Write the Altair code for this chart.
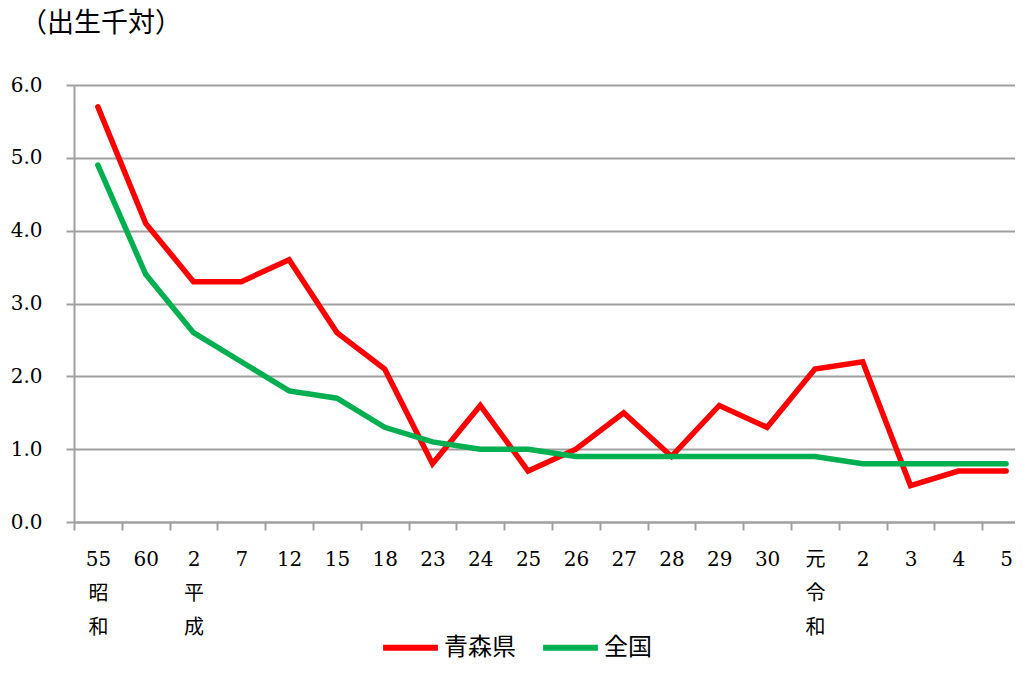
import altair as alt
import pandas as pd

labels = ["55|昭|和", "60", "2|平|成", "7", "12", "15", "18", "23", "24", "25",
          "26", "27", "28", "29", "30", "元|令|和", "2", "3", "4", "5"]
aomori = [5.7, 4.1, 3.3, 3.3, 3.6, 2.6, 2.1, 0.8, 1.6, 0.7,
          1.0, 1.5, 0.9, 1.6, 1.3, 2.1, 2.2, 0.5, 0.7, 0.7]
zenkoku = [4.9, 3.4, 2.6, 2.2, 1.8, 1.7, 1.3, 1.1, 1.0, 1.0,
           0.9, 0.9, 0.9, 0.9, 0.9, 0.9, 0.8, 0.8, 0.8, 0.8]
series_names = ["青森県", "全国"]
colors = ["#FF0000", "#00B050"]

n = len(labels)
rows = []
for i in range(n):
    rows.append({"idx": i, "series": series_names[0], "order": 1, "value": aomori[i]})
    rows.append({"idx": i, "series": series_names[1], "order": 0, "value": zenkoku[i]})
df = pd.DataFrame(rows)

label_arr = "[" + ",".join("'" + l + "'" for l in labels) + "]"
boundaries = [i - 0.5 for i in range(n)]  # category boundaries (tick positions)

FONT = "DejaVu Serif, Noto Sans CJK JP"
CJK = "Noto Sans CJK JP"
GRID = "#A0A0A0"

W = 941
STEP = 47.8
x_max = -0.5 + W / STEP

chart = alt.Chart(df).mark_line(strokeWidth=5.5, strokeCap="round", strokeJoin="miter").encode(
    x=alt.X("idx:Q", scale=alt.Scale(domain=[-0.5, x_max], nice=False, zero=False),
            axis=alt.Axis(title=None, values=boundaries, grid=False, labelAngle=0,
                          tickSize=8, tickColor=GRID, tickWidth=2,
                          domainColor=GRID, domainWidth=2,
                          labelFont=FONT, labelFontSize=20, labelColor="#000000",
                          labelPadding=19, labelLineHeight=34, labelBaseline="top",
                          labelOffset=STEP / 2, labelOverlap=False, labelFlush=False,
                          labelBound=False,
                          labelExpr="split(" + label_arr + "[round(datum.value + 0.5)], '|')")),
    y=alt.Y("value:Q", scale=alt.Scale(domain=[0, 6], nice=False),
            axis=alt.Axis(title=None, values=[0, 1, 2, 3, 4, 5, 6], format=".1f",
                          tickSize=8, tickColor=GRID, tickWidth=2,
                          domainColor=GRID, domainWidth=2,
                          gridColor=GRID, gridWidth=2, gridOpacity=1,
                          labelFont=FONT, labelFontSize=20, labelColor="#000000",
                          labelPadding=24)),
    color=alt.Color("series:N", scale=alt.Scale(domain=series_names, range=colors),
                    legend=alt.Legend(title=None, orient="none", legendX=306, legendY=532,
                                      direction="horizontal", symbolType="stroke",
                                      symbolStrokeWidth=6, symbolSize=3000,
                                      labelFont=CJK, labelFontSize=24, labelColor="#000000",
                                      columnPadding=15, labelOffset=3)),
    order=alt.Order("order:Q"),
    detail="series:N",
).properties(
    width=W, height=437,
    autosize=alt.AutoSizeParams(type="none"),
    padding={"left": 66, "top": 77, "right": 0, "bottom": 138},
    title=alt.TitleParams("（出生千対）", anchor="start", frame="group", font=CJK,
                          fontSize=27, fontWeight="normal", color="#000000",
                          dx=-54, offset=37),
).configure_view(stroke=None)

chart.save("out.html", embed_options={"renderer": "svg", "actions": False})
